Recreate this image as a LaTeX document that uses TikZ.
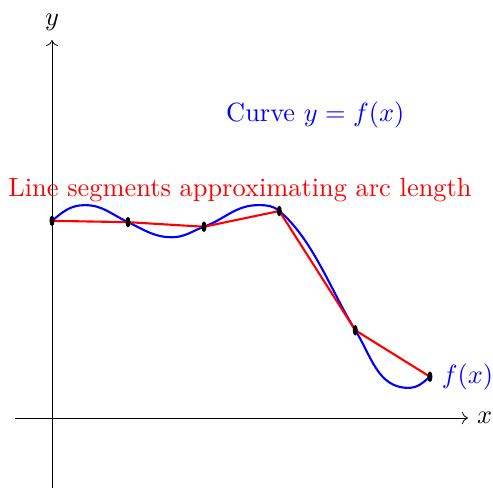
\documentclass[tikz,border=0pt]{standalone}
\usepackage{amsmath}
\usepackage{xcolor}
\usepackage{tikz}
\usetikzlibrary{arrows.meta, positioning}

\begin{document}
\begin{tikzpicture}[scale=0.8726,
  axis/.style={->, line width=0.3pt},
  curve/.style={blue, thick},
  chord/.style={red, thick}
]
  \useasboundingbox (-0.794,-1.084) rectangle (6.733,6.382);

  % Axes
  \draw[axis] (-0.565,0) -- (6.35,0) node[right] (xlab) {$x$};
  \draw[axis] (0,-1.07) -- (0,5.77) node[above] (ylab) {$y$};

  % Sample points on the curve
  \coordinate (p0) at (0,3.01);
  \coordinate (p1) at (1.16,2.99);
  \coordinate (p2) at (2.32,2.92);
  \coordinate (p3) at (3.47,3.16);
  \coordinate (p4) at (4.63,1.34);
  \coordinate (p5) at (5.77,0.63);

  % Curve y = f(x)
  \draw[curve] (p0) to[out=40,in=180] (0.5,3.25) to[out=0,in=155] (p1)
    to[out=-25,in=180] (1.83,2.76) to[out=0,in=200] (p2)
    to[out=20,in=180] (3.15,3.25) to[out=0,in=140] (p3)
    to[out=-40,in=122,looseness=0.8] (p4)
    to[out=-58,in=180] (5.44,0.46) to[out=0,in=220] (p5);

  % Line segments
  \draw[chord] (p0) -- (p1) -- (p2) -- (p3) -- (p4) -- (p5);

  % Points
  \foreach \p in {p0,p1,p2,p3,p4,p5}
    \fill[black] (\p) ellipse (1.1pt and 2.3pt);

  % Labels
  \node[blue] (curvelab) at (4.02,4.62) {Curve $y = f(x)$};
  \node[red] (seglab) at (2.87,3.48) {Line segments approximating arc length};
  \node[blue, right=1pt of p5] (flab) {$f(x)$};
\end{tikzpicture}
\end{document}
